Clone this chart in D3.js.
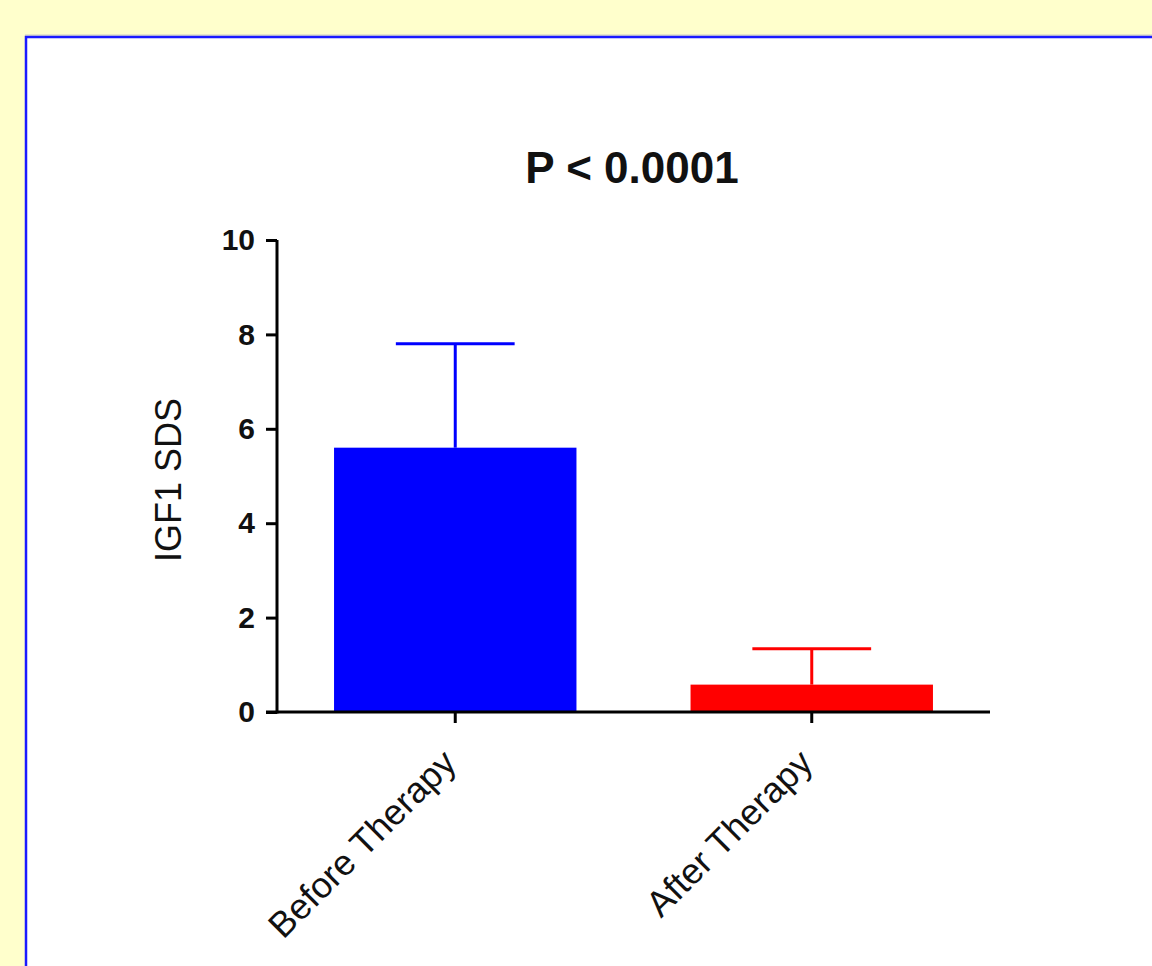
<!DOCTYPE html>
<html>
<head>
<meta charset="utf-8">
<script src="https://cdn.jsdelivr.net/npm/d3@7"></script>
<style>
  html, body { margin: 0; padding: 0; background: #ffffcc; }
  svg { display: block; }
</style>
</head>
<body>
<div id="chart"></div>
<script>
const categories = ["Before Therapy", "After Therapy"];
const means = [5.6, 0.58];
const errors = [2.2, 0.76];
const colors = ["#0000ff", "#ff0000"];
const yTicks = [0, 2, 4, 6, 8, 10];

const W = 1152, H = 966;
const x0 = 277, x1 = 990, yTop = 240, yBottom = 712;

const svg = d3.select("#chart").append("svg")
  .attr("width", W).attr("height", H);

// white panel with blue border, runs off the right and bottom
svg.append("line")
  .attr("x1", 25).attr("x2", W).attr("y1", 35).attr("y2", 35)
  .attr("stroke", "#c8c8c8").attr("stroke-width", 1);
svg.append("rect")
  .attr("x", 26).attr("y", 37).attr("width", W).attr("height", H)
  .attr("fill", "#fff").attr("stroke", "#1a1aff").attr("stroke-width", 2.5);

const x = d3.scaleBand().domain(categories).range([x0, x1])
  .paddingInner(0.32).paddingOuter(0.16);
const y = d3.scaleLinear().domain([0, 10]).range([yBottom, yTop]);

const font = "Liberation Sans, Arial, sans-serif";

// bars
svg.append("g").selectAll("rect")
  .data(categories)
  .join("rect")
  .attr("x", d => x(d))
  .attr("width", x.bandwidth())
  .attr("y", (d, i) => y(means[i]))
  .attr("height", (d, i) => y(0) - y(means[i]))
  .attr("fill", (d, i) => colors[i]);

// error bars (upper only)
const eb = svg.append("g").selectAll("g")
  .data(categories)
  .join("g")
  .attr("stroke", (d, i) => colors[i])
  .attr("stroke-width", 3);
eb.append("line")
  .attr("x1", d => x(d) + x.bandwidth() / 2)
  .attr("x2", d => x(d) + x.bandwidth() / 2)
  .attr("y1", (d, i) => y(means[i]))
  .attr("y2", (d, i) => y(means[i] + errors[i]));
eb.append("line")
  .attr("x1", d => x(d) + x.bandwidth() / 2 - x.bandwidth() * 0.245)
  .attr("x2", d => x(d) + x.bandwidth() / 2 + x.bandwidth() * 0.245)
  .attr("y1", (d, i) => y(means[i] + errors[i]))
  .attr("y2", (d, i) => y(means[i] + errors[i]));

// y axis
const yAxis = svg.append("g")
  .attr("transform", `translate(${x0},0)`)
  .call(d3.axisLeft(y).tickValues(yTicks).tickSize(11).tickPadding(11).tickSizeOuter(0));
yAxis.select(".domain").attr("stroke-width", 3).attr("stroke", "#000")
  .attr("d", `M0,${yTop}V${yBottom + 1.5}`);
yAxis.selectAll(".tick line").attr("stroke-width", 3);
yAxis.selectAll(".tick text")
  .attr("font-family", font).attr("font-size", 30).attr("font-weight", "bold")
  .attr("fill", "#111");

// x axis
const xAxis = svg.append("g")
  .attr("transform", `translate(0,${yBottom})`)
  .call(d3.axisBottom(x).tickSize(11).tickSizeOuter(0).tickFormat(""));
xAxis.select(".domain").attr("stroke-width", 3).attr("stroke", "#000")
  .attr("d", `M${x0 - 11},0H${x1}`);
xAxis.selectAll(".tick line").attr("stroke-width", 3);
xAxis.selectAll(".tick").append("text")
  .attr("transform", "translate(3,53) rotate(-45)")
  .attr("text-anchor", "end")
  .attr("font-family", font).attr("font-size", 36)
  .attr("fill", "#111")
  .text(d => d);

// y label
svg.append("text")
  .attr("transform", `translate(181,480) rotate(-90)`)
  .attr("text-anchor", "middle")
  .attr("font-family", font).attr("font-size", 36)
  .attr("fill", "#111")
  .text("IGF1 SDS");

// title
svg.append("text")
  .attr("x", 632).attr("y", 183)
  .attr("text-anchor", "middle")
  .attr("font-family", font).attr("font-size", 44).attr("font-weight", "bold")
  .attr("fill", "#111")
  .text("P < 0.0001");
</script>
</body>
</html>
